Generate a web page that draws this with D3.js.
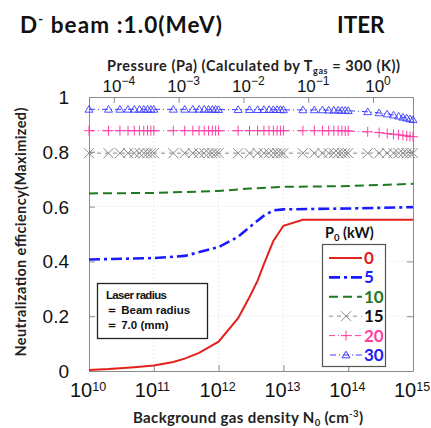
<!DOCTYPE html>
<html>
<head>
<meta charset="utf-8">
<script src="https://cdnjs.cloudflare.com/ajax/libs/d3/7.8.5/d3.min.js"></script>
<style>
  body { margin: 0; background: #fff; }
  text { font-family: "Liberation Sans", Arial, sans-serif; }
  .cal { font-family: Lato, "Open Sans", sans-serif; font-weight: bold; }
</style>
</head>
<body>
<div id="chart"></div>
<script>
// bottom axis ticks (cm^-3) and top axis ticks (Pa)
var densityTicks = [1e10, 1e11, 1e12, 1e13, 1e14, 1e15];
var pressureTicks = [1e-4, 1e-3, 1e-2, 1e-1, 1e0];
var effTicks = [0, 0.2, 0.4, 0.6, 0.8, 1];

// P0 = 0 kW
var n0 = [1e10, 2e10, 3e10, 5e10, 1e11, 2e11, 3e11, 5e11, 1e12, 2e12, 3e12, 4e12, 5e12, 7e12, 1e13, 2e13, 1e14, 1e15];
var eff0 = [0.004, 0.007, 0.010, 0.014, 0.020, 0.033, 0.045, 0.066, 0.107, 0.193, 0.270, 0.330, 0.390, 0.475, 0.530, 0.552, 0.552, 0.552];

// P0 = 5 kW
var n5 = [1e10, 1e11, 3e11, 1e12, 2e12, 3e12, 5e12, 7e12, 1e13, 1e14, 1e15];
var eff5 = [0.407, 0.412, 0.420, 0.452, 0.490, 0.525, 0.567, 0.586, 0.590, 0.593, 0.598];

// P0 = 10 kW
var n10 = [1e10, 1e11, 1e12, 3e12, 1e13, 1e14, 1e15];
var eff10 = [0.648, 0.650, 0.657, 0.666, 0.672, 0.675, 0.683];

// P0 = 15, 20, 30 kW (marker series)
var nGrid = [
  1e10, 2e10, 3e10, 4e10, 5e10, 6e10, 7e10, 8e10, 9e10,
  1e11, 2e11, 3e11, 4e11, 5e11, 6e11, 7e11, 8e11, 9e11,
  1e12, 2e12, 3e12, 4e12, 5e12, 6e12, 7e12, 8e12, 9e12,
  1e13, 2e13, 3e13, 4e13, 5e13, 6e13, 7e13, 8e13, 9e13,
  1e14, 2e14, 3e14, 4e14, 5e14, 6e14, 7e14, 8e14, 9e14,
  1e15];
var eff15 = [
  0.795, 0.795, 0.795, 0.795, 0.795, 0.795, 0.795, 0.795, 0.795,
  0.795, 0.795, 0.795, 0.795, 0.795, 0.795, 0.795, 0.795, 0.795,
  0.795, 0.795, 0.795, 0.795, 0.795, 0.795, 0.795, 0.795, 0.795,
  0.795, 0.795, 0.795, 0.795, 0.795, 0.795, 0.795, 0.795, 0.795,
  0.795, 0.795, 0.795, 0.795, 0.795, 0.795, 0.795, 0.795, 0.795,
  0.795];
var eff20 = [
  0.877, 0.877, 0.877, 0.877, 0.877, 0.877, 0.877, 0.877, 0.877,
  0.877, 0.877, 0.877, 0.877, 0.877, 0.877, 0.877, 0.877, 0.877,
  0.877, 0.877, 0.877, 0.877, 0.877, 0.877, 0.877, 0.877, 0.877,
  0.877, 0.877, 0.877, 0.877, 0.877, 0.877, 0.877, 0.877, 0.876,
  0.876, 0.873, 0.870, 0.867, 0.864, 0.862, 0.860, 0.858, 0.856,
  0.855];
var eff30 = [
  0.955, 0.955, 0.955, 0.955, 0.955, 0.955, 0.955, 0.955, 0.955,
  0.955, 0.955, 0.955, 0.955, 0.955, 0.955, 0.955, 0.955, 0.955,
  0.954, 0.954, 0.954, 0.954, 0.954, 0.954, 0.954, 0.954, 0.954,
  0.953, 0.953, 0.953, 0.953, 0.952, 0.952, 0.952, 0.951, 0.951,
  0.950, 0.946, 0.942, 0.938, 0.934, 0.930, 0.926, 0.923, 0.920,
  0.917];

var powerLabels = ["0", "5", "10", "15", "20", "30"];

// layout
var W = 431, H = 428;
var L = 89, R = 413, T = 97, B = 371;

var svg = d3.select("#chart").append("svg")
  .attr("width", W).attr("height", H);

var x = d3.scaleLog().domain([1e10, 1e15]).range([L, R]);
var y = d3.scaleLinear().domain([0, 1]).range([B, T]);

// pressure at 300 K: p = N k T  (N in cm^-3 -> m^-3)
var kB = 1.380649e-23, Tgas = 300;
var xp = d3.scaleLog()
  .domain([1e10 * 1e6 * kB * Tgas, 1e15 * 1e6 * kB * Tgas])
  .range([L, R]);

// faint grid
svg.append("g").selectAll("line.gy")
  .data(effTicks.slice(1, 5)).enter().append("line")
    .attr("x1", L).attr("x2", R)
    .attr("y1", function(d) { return y(d); }).attr("y2", function(d) { return y(d); })
    .attr("stroke", "#ececec").attr("stroke-width", 1).attr("stroke-dasharray", "2,2");
svg.append("g").selectAll("line.gx")
  .data(densityTicks.slice(1, 5)).enter().append("line")
    .attr("y1", T).attr("y2", B)
    .attr("x1", function(d) { return x(d); }).attr("x2", function(d) { return x(d); })
    .attr("stroke", "#ececec").attr("stroke-width", 1).attr("stroke-dasharray", "2,2");

// axes (ticks pointing inwards)
var axCol = "#8c8c8c";
function styleAxis(g) {
  g.select(".domain").attr("stroke", axCol);
  g.selectAll(".tick line").attr("stroke", axCol);
  g.selectAll(".tick text").remove();
}
svg.append("g").attr("transform", "translate(0," + B + ")")
  .call(d3.axisBottom(x).tickValues(densityTicks).tickSizeInner(-6).tickSizeOuter(0).tickFormat(""))
  .call(styleAxis);
svg.append("g").attr("transform", "translate(0," + T + ")")
  .call(d3.axisTop(xp).tickValues(pressureTicks).tickSizeInner(-6).tickSizeOuter(0).tickFormat(""))
  .call(styleAxis);
svg.append("g").attr("transform", "translate(" + L + ",0)")
  .call(d3.axisLeft(y).tickValues(effTicks).tickSizeInner(-6).tickSizeOuter(0).tickFormat(""))
  .call(styleAxis);
svg.append("g").attr("transform", "translate(" + R + ",0)")
  .call(d3.axisRight(y).tickValues(effTicks).tickSizeInner(-6).tickSizeOuter(0).tickFormat(""))
  .call(styleAxis);

// tick labels with superscripts
function powerLabel(g, base, exp, big, small, rise) {
  g.append("tspan").attr("font-size", big).text(base);
  g.append("tspan").attr("font-size", small).attr("dy", -rise).text(exp);
}
svg.append("g").selectAll("text")
  .data(densityTicks).enter().append("text")
    .attr("x", function(d) { return x(d) - 19; })
    .attr("y", 397)
    .attr("fill", "#111")
    .each(function(d) {
      powerLabel(d3.select(this), "10", String(Math.round(Math.log10(d))), 20, 12.5, 6);
    });
svg.append("g").selectAll("text")
  .data(pressureTicks).enter().append("text")
    .attr("x", function(d) { return xp(d) + 5; })
    .attr("y", 92)
    .attr("text-anchor", "middle")
    .attr("fill", "#111")
    .each(function(d) {
      var e = Math.round(Math.log10(d));
      powerLabel(d3.select(this), "10", e < 0 ? "\u2212" + (-e) : String(e), 17, 12, 7);
    });
svg.append("g").selectAll("text")
  .data(effTicks).enter().append("text")
    .attr("x", 69)
    .attr("y", function(d) { return y(d) + 7; })
    .attr("text-anchor", "end")
    .attr("font-size", 19)
    .attr("fill", "#111")
    .text(function(d) { return d === 0 || d === 1 ? String(d) : d.toFixed(1); });

// series
var series = [
  {n: n0,    v: eff0,  color: "#e3201b", width: 2,   dash: null},
  {n: n5,    v: eff5,  color: "#1a1aff", width: 2.6, dash: "11,4,3,4"},
  {n: n10,   v: eff10, color: "#1e7a1e", width: 2,   dash: "9,5"},
  {n: nGrid, v: eff15, color: "#8a8a8a", width: 1,   dash: "4,4",     marker: "x"},
  {n: nGrid, v: eff20, color: "#ff3fa4", width: 1,   dash: "6,3,1,3", marker: "+"},
  {n: nGrid, v: eff30, color: "#3a3aff", width: 1,   dash: "6,3,1,3", marker: "tri"}
];

var line = d3.line()
  .x(function(d) { return x(d[0]); })
  .y(function(d) { return y(d[1]); });

function markerPath(type, s) {
  if (type === "x") return "M" + (-s) + "," + (-s) + "L" + s + "," + s + "M" + (-s) + "," + s + "L" + s + "," + (-s);
  if (type === "+") return "M" + (-s) + ",0L" + s + ",0M0," + (-s) + "L0," + s;
  return "M0," + (-s) + "L" + (s * 1.05) + "," + (s * 0.75) + "L" + (-s * 1.05) + "," + (s * 0.75) + "Z";
}

var plot = svg.append("g");
series.forEach(function(sr) {
  var pts = sr.n.map(function(d, i) { return [d, sr.v[i]]; });
  plot.append("path")
    .datum(pts)
    .attr("d", line)
    .attr("fill", "none")
    .attr("stroke", sr.color)
    .attr("stroke-width", sr.width)
    .attr("stroke-dasharray", sr.dash);
  if (sr.marker) {
    var sz = sr.marker === "tri" ? 3.8 : 5;
    plot.append("g").selectAll("path")
      .data(pts).enter().append("path")
        .attr("transform", function(d) { return "translate(" + x(d[0]) + "," + y(d[1]) + ")"; })
        .attr("d", markerPath(sr.marker, sz))
        .attr("fill", "none")
        .attr("stroke", sr.color)
        .attr("stroke-width", sr.marker === "tri" ? 0.9 : 1);
  }
});

// legend
svg.append("text").attr("class", "cal")
  .attr("x", 325).attr("y", 238).attr("font-size", 14.5).attr("fill", "#111")
  .call(function(t) {
    t.append("tspan").text("P");
    t.append("tspan").attr("font-size", 9.5).attr("dy", 3).text("0");
    t.append("tspan").attr("dy", -3).text(" (kW)");
  });
svg.append("rect")
  .attr("x", 322.5).attr("y", 244.5).attr("width", 63).attr("height", 122)
  .attr("fill", "#fff").attr("stroke", "#555").attr("stroke-width", 1.2);

var labelColors = ["#e3201b", "#1a1aff", "#1e7a1e", "#111", "#ff3fa4", "#2222ee"];
var leg = svg.append("g").selectAll("g")
  .data(series).enter().append("g")
    .attr("transform", function(d, i) { return "translate(0," + (258 + i * 19.4) + ")"; });
leg.append("line")
  .attr("x1", function(d) { return d.marker === "tri" ? 330 : 329; }).attr("x2", 362)
  .attr("y1", 0).attr("y2", 0)
  .attr("stroke", function(d) { return d.color; })
  .attr("stroke-width", function(d) { return d.width; })
  .attr("stroke-dasharray", function(d) { return d.dash; });
leg.filter(function(d) { return d.marker; }).append("path")
  .attr("transform", "translate(346,0)")
  .attr("d", function(d) { return markerPath(d.marker, d.marker === "tri" ? 3.8 : 5); })
  .attr("fill", "none")
  .attr("stroke", function(d) { return d.color; });
leg.append("text").attr("class", "cal")
  .attr("x", 364).attr("y", 6)
  .attr("font-size", 17)
  .attr("fill", function(d, i) { return labelColors[i]; })
  .text(function(d, i) { return powerLabels[i]; });

// note box
svg.append("rect")
  .attr("x", 97.5).attr("y", 283.5).attr("width", 110).attr("height", 55)
  .attr("fill", "#fff").attr("stroke", "#222").attr("stroke-width", 1.3);
var note = svg.append("g").attr("class", "cal").attr("font-size", 11.5).attr("fill", "#111");
note.append("text").attr("x", 106).attr("y", 299).attr("textLength", 61).text("Laser radius");
note.append("text").attr("x", 106).attr("y", 314).text("\uFF1D Beam radius");
note.append("text").attr("x", 106).attr("y", 329).text("\uFF1D 7.0 (mm)");

// titles
svg.append("text").attr("class", "cal")
  .attr("x", 20).attr("y", 33).attr("font-size", 22.5).attr("fill", "#111")
  .attr("textLength", 202).attr("lengthAdjust", "spacing")
  .call(function(t) {
    t.append("tspan").text("D");
    t.append("tspan").attr("font-size", 13).attr("dy", -9).text("-");
    t.append("tspan").attr("dy", 9).text(" beam :1.0(MeV)");
  });
svg.append("text").attr("class", "cal")
  .attr("x", 337).attr("y", 33).attr("font-size", 22.5).attr("fill", "#111")
  .text("ITER");

svg.append("text").attr("class", "cal")
  .attr("x", 107).attr("y", 71).attr("font-size", 14.5).attr("fill", "#222")
  .attr("textLength", 293).attr("lengthAdjust", "spacing")
  .call(function(t) {
    t.append("tspan").text("Pressure (Pa) (Calculated by T");
    t.append("tspan").attr("font-size", 9).attr("dy", 2.5).text("gas");
    t.append("tspan").attr("dy", -2.5).text(" = 300 (K))");
  });

svg.append("text").attr("class", "cal")
  .attr("x", 133).attr("y", 423).attr("font-size", 15).attr("fill", "#222")
  .attr("textLength", 230).attr("lengthAdjust", "spacing")
  .call(function(t) {
    t.append("tspan").text("Background gas density N");
    t.append("tspan").attr("font-size", 9.5).attr("dy", 3).text("0");
    t.append("tspan").attr("dy", -3).text(" (cm");
    t.append("tspan").attr("font-size", 9.5).attr("dy", -6).text("-3");
    t.append("tspan").attr("dy", 6).text(")");
  });

svg.append("text").attr("class", "cal")
  .attr("transform", "translate(26,232) rotate(-90)")
  .attr("text-anchor", "middle")
  .attr("font-size", 14.5).attr("fill", "#222")
  .attr("textLength", 249).attr("lengthAdjust", "spacing")
  .text("Neutralization efficiency(Maximized)");
</script>
</body>
</html>
